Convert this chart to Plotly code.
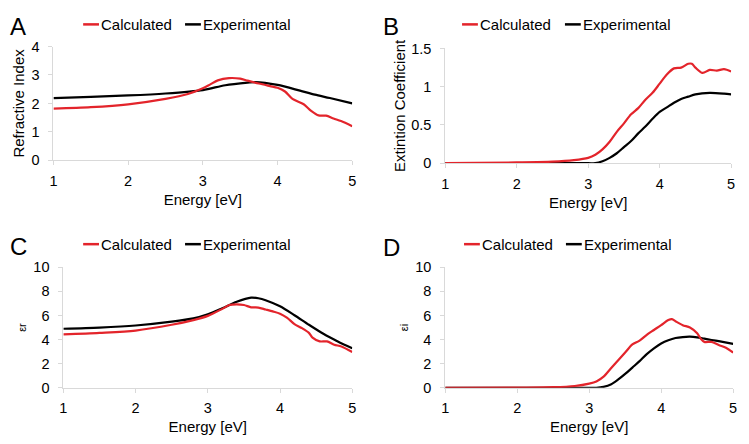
import plotly.graph_objects as go

W, H = 749, 444

# ---------------- data ----------------
# Panel A: refractive index
a_calc_e = [1.0, 1.5, 2.0, 2.5, 2.8, 3.0, 3.1, 3.2, 3.35, 3.5, 3.6, 3.75, 3.9, 4.0, 4.1, 4.2, 4.35, 4.45, 4.55, 4.65, 4.75, 4.85, 5.0]
a_calc_v = [1.82, 1.87, 1.97, 2.16, 2.33, 2.53, 2.67, 2.81, 2.89, 2.87, 2.80, 2.70, 2.61, 2.55, 2.42, 2.16, 1.97, 1.74, 1.58, 1.57, 1.47, 1.38, 1.20]
a_exp_e = [1.0, 1.5, 2.0, 2.5, 3.0, 3.3, 3.6, 3.7, 4.0, 4.3, 4.5, 4.7, 5.0]
a_exp_v = [2.19, 2.23, 2.28, 2.35, 2.47, 2.64, 2.73, 2.75, 2.65, 2.45, 2.31, 2.19, 2.00]

# Panel B: extinction coefficient
b_calc_e = [1.0, 2.0, 2.5, 2.8, 3.0, 3.1, 3.2, 3.3, 3.4, 3.5, 3.6, 3.7, 3.8, 3.9, 4.0, 4.1, 4.2, 4.3, 4.4, 4.45, 4.5, 4.6, 4.7, 4.8, 4.9, 5.0]
b_calc_v = [0.0, 0.01, 0.02, 0.04, 0.07, 0.11, 0.18, 0.28, 0.41, 0.52, 0.64, 0.72, 0.83, 0.92, 1.04, 1.16, 1.24, 1.25, 1.30, 1.30, 1.25, 1.18, 1.22, 1.21, 1.23, 1.20]
b_exp_e = [1.0, 2.0, 3.0, 3.1, 3.2, 3.3, 3.4, 3.5, 3.6, 3.7, 3.8, 3.9, 4.0, 4.1, 4.2, 4.3, 4.4, 4.5, 4.7, 4.9, 5.0]
b_exp_v = [0.0, 0.0, 0.0, 0.0, 0.025, 0.07, 0.13, 0.21, 0.29, 0.39, 0.48, 0.58, 0.67, 0.73, 0.79, 0.84, 0.87, 0.90, 0.92, 0.91, 0.90]

# Panel C: real permittivity
c_calc_e = [1.0, 1.5, 2.0, 2.5, 2.8, 3.0, 3.2, 3.3, 3.4, 3.5, 3.6, 3.7, 3.8, 3.9, 4.0, 4.1, 4.2, 4.3, 4.4, 4.45, 4.55, 4.65, 4.75, 4.85, 5.0]
c_calc_v = [4.43, 4.56, 4.75, 5.23, 5.62, 5.97, 6.55, 6.87, 6.92, 6.87, 6.68, 6.66, 6.50, 6.34, 6.15, 5.80, 5.28, 4.96, 4.56, 4.16, 3.85, 3.85, 3.58, 3.42, 2.97]
c_exp_e = [1.0, 1.5, 2.0, 2.5, 2.8, 3.0, 3.2, 3.4, 3.6, 3.7, 3.8, 4.0, 4.2, 4.4, 4.6, 4.8, 5.0]
c_exp_v = [4.90, 5.00, 5.17, 5.49, 5.76, 6.10, 6.60, 7.14, 7.48, 7.43, 7.27, 6.76, 6.02, 5.23, 4.48, 3.85, 3.29]

# Panel D: imaginary permittivity
d_calc_e = [1.0, 2.0, 2.5, 2.8, 3.0, 3.1, 3.2, 3.3, 3.4, 3.5, 3.6, 3.7, 3.8, 3.9, 4.0, 4.1, 4.15, 4.2, 4.3, 4.4, 4.5, 4.55, 4.6, 4.7, 4.8, 4.9, 5.0]
d_calc_v = [0.0, 0.02, 0.05, 0.15, 0.35, 0.53, 0.93, 1.60, 2.27, 2.93, 3.60, 3.92, 4.40, 4.80, 5.20, 5.62, 5.70, 5.52, 5.20, 5.01, 4.53, 4.08, 3.81, 3.81, 3.55, 3.33, 2.93]
d_exp_e = [1.0, 2.0, 3.0, 3.1, 3.2, 3.3, 3.4, 3.5, 3.6, 3.7, 3.8, 3.9, 4.0, 4.1, 4.2, 4.3, 4.4, 4.5, 4.6, 4.7, 4.8, 5.0]
d_exp_v = [0.0, 0.0, 0.0, 0.0, 0.08, 0.27, 0.67, 1.15, 1.68, 2.21, 2.80, 3.28, 3.68, 3.95, 4.13, 4.21, 4.24, 4.19, 4.08, 3.97, 3.87, 3.65]

series_names = ["Calculated", "Experimental"]
panel_letters = ["A", "B", "C", "D"]
y_titles = ["Refractive Index", "Extintion Coefficient", "εr", "εi"]
x_title = "Energy [eV]"
x_ticks = [1, 2, 3, 4, 5]
y_ranges = [[0, 4], [0, 1.5], [0, 10], [0, 10]]
y_dticks = [1, 0.5, 2, 2]

RED = "#e3242b"
BLACK = "#000000"
AXIS = "#d9d9d9"
FONT = "Liberation Sans, Arial, sans-serif"

# ---------------- layout geometry (pixels) ----------------
# plot boxes: (left, right, top, bottom)
boxes = [(50, 352, 40, 158), (446, 735, 42, 161), (60, 352, 269, 394), (446, 737, 269, 394)]
legend_pos = [(80, 183, 17), (463, 567, 17), (80, 183, 245), (465, 568, 245)]
letter_pos = [(4, 19), (381, 19), (4, 247), (381, 248)]
ytitle_standoff = [3, 1, 4, 4]


def px(x):
    return x / W


def py(y):
    return 1 - y / H


panels = [
    (a_calc_e, a_calc_v, a_exp_e, a_exp_v),
    (b_calc_e, b_calc_v, b_exp_e, b_exp_v),
    (c_calc_e, c_calc_v, c_exp_e, c_exp_v),
    (d_calc_e, d_calc_v, d_exp_e, d_exp_v),
]

fig = go.Figure()
shapes = []
annotations = []
layout_axes = {}

for i, (ce, cv, ee, ev) in enumerate(panels):
    n = "" if i == 0 else str(i + 1)
    xa, ya = "x" + n, "y" + n
    fig.add_trace(go.Scatter(x=ee, y=ev, mode="lines", name=series_names[1], xaxis=xa, yaxis=ya,
                             line=dict(color=BLACK, width=2.2, shape="spline", smoothing=0.8),
                             showlegend=False))
    fig.add_trace(go.Scatter(x=ce, y=cv, mode="lines", name=series_names[0], xaxis=xa, yaxis=ya,
                             line=dict(color=RED, width=2.2, shape="spline", smoothing=0.8),
                             showlegend=False))
    l, r, t, b = boxes[i]
    layout_axes["xaxis" + n] = dict(
        domain=[px(l), px(r)], anchor=ya, range=[1, 5], tickvals=x_ticks,
        showline=True, linecolor=AXIS, linewidth=1, ticks="outside", ticklen=4, tickcolor=AXIS,
        showgrid=False, zeroline=False, tickfont=dict(size=14.5, color="#000"),
        ticklabelstandoff=3,
        title=dict(text=x_title, font=dict(size=15, color="#000"), standoff=6),
    )
    ysize = 15 if i < 2 else 11
    layout_axes["yaxis" + n] = dict(
        domain=[py(b), py(t)], anchor=xa, range=y_ranges[i], dtick=y_dticks[i],
        showline=True, linecolor=AXIS, linewidth=1, ticks="outside", ticklen=4, tickcolor=AXIS,
        showgrid=False, zeroline=False, tickfont=dict(size=14.5, color="#000"),
        ticklabelstandoff=6,
        title=dict(text=y_titles[i], font=dict(size=ysize, color="#000"), standoff=ytitle_standoff[i]),
    )
    # manual legend
    x1, x2, yy = legend_pos[i]
    for xs, col, name in [(x1, RED, series_names[0]), (x2, BLACK, series_names[1])]:
        shapes.append(dict(type="line", xref="paper", yref="paper", x0=px(xs), x1=px(xs + 16),
                           y0=py(yy), y1=py(yy), line=dict(color=col, width=2.5)))
        annotations.append(dict(text=name, xref="paper", yref="paper", x=px(xs + 16), y=py(yy),
                                xanchor="left", yanchor="middle", showarrow=False,
                                font=dict(size=15, color="#000")))
    lx, ly = letter_pos[i]
    annotations.append(dict(text=panel_letters[i], xref="paper", yref="paper", x=px(lx), y=py(ly),
                            xanchor="left", yanchor="middle", showarrow=False,
                            font=dict(size=24, color="#000")))

fig.update_layout(
    width=W, height=H, margin=dict(l=0, r=0, t=0, b=0),
    paper_bgcolor="white", plot_bgcolor="white",
    font=dict(family=FONT, color="#000"),
    shapes=shapes, annotations=annotations, showlegend=False,
    **layout_axes,
)

fig.write_html("out.html", config={"displayModeBar": False},
               post_script="document.body.style.margin='0px';")
